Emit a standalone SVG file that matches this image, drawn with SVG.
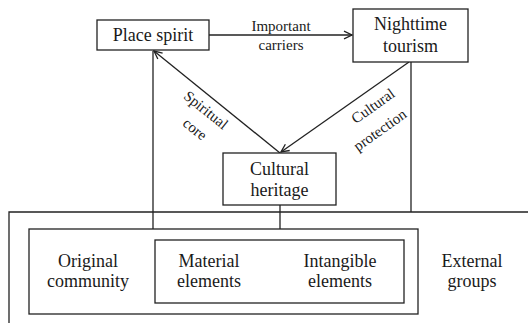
<svg xmlns="http://www.w3.org/2000/svg" width="528" height="323" viewBox="0 0 528 323">
<defs>
<marker id="arr" markerUnits="userSpaceOnUse" markerWidth="12" markerHeight="12" viewBox="-10 -6 12 12" refX="0" refY="0" orient="auto">
<path d="M-8,-3.8 L0,0 L-8,3.8" fill="none" stroke="#222" stroke-width="1.3"/>
</marker>
</defs>
<rect width="528" height="323" fill="#fff"/>
<g id="connectors" fill="none" stroke="#222" stroke-width="1.3">
<path d="M209,35 H352" marker-end="url(#arr)"/>
<path d="M280,153 L154,51" marker-end="url(#arr)"/>
<path d="M409,62 L281,152" marker-end="url(#arr)"/>
<path d="M153,51 V229"/>
<path d="M411,62 V212"/>
<path d="M280,205 V240"/>
<path d="M528,212 H9 V323"/>
</g>
<g id="labels">
<text font-family="Liberation Serif" font-size="15" fill="#1a1a1a" text-anchor="middle" x="281" y="31">Important</text>
<text font-family="Liberation Serif" font-size="15" fill="#1a1a1a" text-anchor="middle" x="281" y="50">carriers</text>
<text font-family="Liberation Serif" font-size="15" fill="#1a1a1a" text-anchor="middle" transform="translate(206,110) rotate(39)" y="5">Spiritual</text>
<text font-family="Liberation Serif" font-size="15" fill="#1a1a1a" text-anchor="middle" transform="translate(195,129) rotate(39)" y="5">core</text>
<text font-family="Liberation Serif" font-size="15" fill="#1a1a1a" text-anchor="middle" transform="translate(373,106) rotate(-35.4)" y="5">Cultural</text>
<text font-family="Liberation Serif" font-size="15" fill="#1a1a1a" text-anchor="middle" transform="translate(380,130) rotate(-35.4)" y="5">protection</text>
</g>
<g id="place-spirit">
<rect x="97" y="20" width="112" height="30" fill="#fff" stroke="#222" stroke-width="1.3"/>
<text font-family="Liberation Serif" font-size="18" fill="#1a1a1a" text-anchor="middle" x="153" y="41">Place spirit</text>
</g>
<g id="nighttime-tourism">
<rect x="353" y="9" width="115" height="53" fill="#fff" stroke="#222" stroke-width="1.3"/>
<text font-family="Liberation Serif" font-size="18" fill="#1a1a1a" text-anchor="middle" x="410.5" y="30">Nighttime</text>
<text font-family="Liberation Serif" font-size="18" fill="#1a1a1a" text-anchor="middle" x="410.5" y="52">tourism</text>
</g>
<g id="cultural-heritage">
<rect x="223" y="153" width="113" height="52" fill="#fff" stroke="#222" stroke-width="1.3"/>
<text font-family="Liberation Serif" font-size="18" fill="#1a1a1a" text-anchor="middle" x="279.5" y="175">Cultural</text>
<text font-family="Liberation Serif" font-size="18" fill="#1a1a1a" text-anchor="middle" x="279.5" y="196">heritage</text>
</g>
<g id="community-box">
<rect x="29" y="229" width="389" height="85" fill="#fff" stroke="#222" stroke-width="1.3"/>
<text font-family="Liberation Serif" font-size="18" fill="#1a1a1a" text-anchor="middle" x="88" y="267">Original</text>
<text font-family="Liberation Serif" font-size="18" fill="#1a1a1a" text-anchor="middle" x="88" y="287">community</text>
</g>
<g id="elements-box">
<rect x="155" y="240" width="249" height="63" fill="#fff" stroke="#222" stroke-width="1.3"/>
<text font-family="Liberation Serif" font-size="18" fill="#1a1a1a" text-anchor="middle" x="209" y="267">Material</text>
<text font-family="Liberation Serif" font-size="18" fill="#1a1a1a" text-anchor="middle" x="209" y="287">elements</text>
<text font-family="Liberation Serif" font-size="18" fill="#1a1a1a" text-anchor="middle" x="340" y="267">Intangible</text>
<text font-family="Liberation Serif" font-size="18" fill="#1a1a1a" text-anchor="middle" x="340" y="287">elements</text>
</g>
<g id="external-groups">
<text font-family="Liberation Serif" font-size="18" fill="#1a1a1a" text-anchor="middle" x="472" y="267">External</text>
<text font-family="Liberation Serif" font-size="18" fill="#1a1a1a" text-anchor="middle" x="472" y="287">groups</text>
</g>
</svg>
